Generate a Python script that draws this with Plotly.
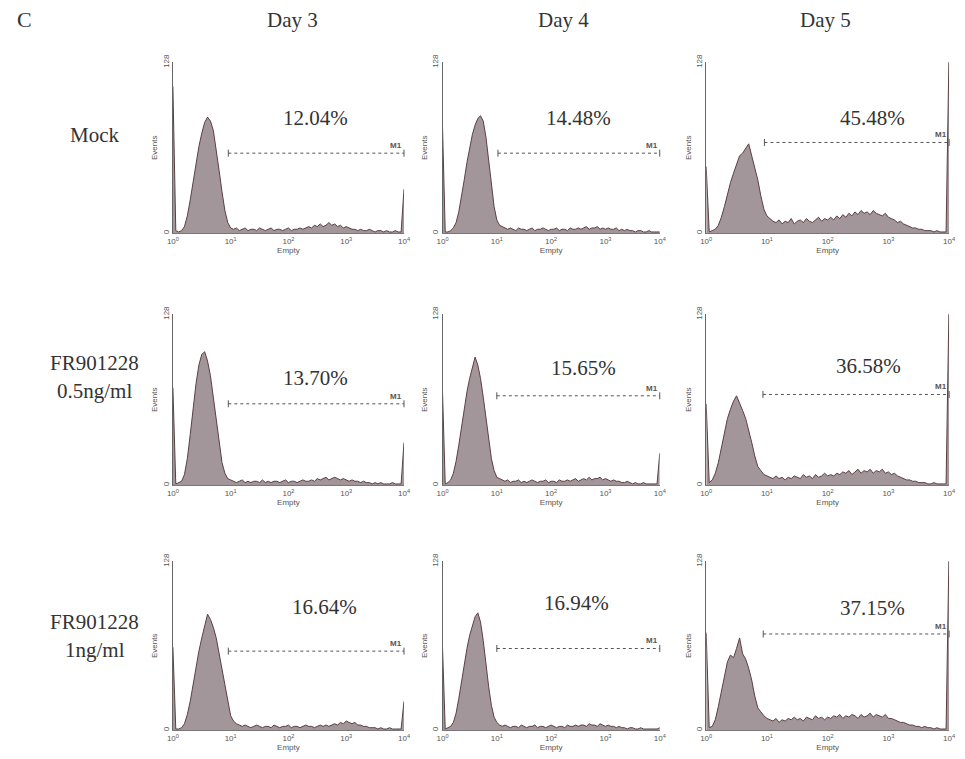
import plotly.graph_objects as go

# ---------------- data ----------------
row_labels = [["Mock"], ["FR901228", "0.5ng/ml"], ["FR901228", "1ng/ml"]]
col_labels = ["Day 3", "Day 4", "Day 5"]
pct_labels = ["12.04%", "14.48%", "45.48%",
              "13.70%", "15.65%", "36.58%",
              "16.64%", "16.94%", "37.15%"]
# histogram channels: log10 fluorescence 0..4 in 0.05 steps
n_channels = 81
# event counts per channel
mock_d3 = [110, 2, 1, 2, 5, 13, 25, 39, 53, 65, 75, 83, 87, 84, 77, 63, 47, 31, 17, 8, 4,
           3, 4, 2, 3, 4, 2, 3, 3, 2, 4, 3, 2, 3, 4, 2, 3, 3, 2, 3, 4, 2, 3, 3, 4, 3,
           4, 5, 4, 6, 5, 7, 5, 6, 8, 6, 7, 5, 6, 4, 5, 4, 3,
           3, 2, 3, 2, 2, 3, 2, 1, 2, 2, 1, 2, 1, 1, 2, 1, 1, 33]
mock_d4 = [80, 1, 1, 2, 4, 8, 16, 27, 40, 53, 64, 74, 81, 86, 88, 84, 72, 55, 36, 20, 10, 6, 5, 4,
           3, 4, 3, 2, 4, 3, 3, 2, 3, 4, 2, 3, 3, 4, 3, 2, 3, 3, 4, 2, 3, 3, 2, 4, 3, 3,
           4, 3, 4, 5, 3, 4, 4, 5, 3, 4, 3, 4, 3, 3, 4, 2, 3,
           2, 3, 2, 2, 1, 2, 2, 1, 1, 2, 1, 1, 1, 1]
mock_d5 = [50, 1, 2, 3, 6, 12, 20, 30, 38, 45, 52, 58, 60, 64, 67, 58, 50, 40, 28, 18, 13, 11, 9,
           8, 10, 7, 9, 8, 11, 7, 9, 10, 8, 11, 9, 8, 10, 12, 9, 11, 10,
           12, 10, 13, 11, 14, 12, 15, 13, 16, 14, 17, 15, 16, 14, 17, 15, 14, 13, 15, 12,
           11, 10, 8, 9, 7, 6, 5, 4, 4, 3, 3, 2, 2, 2, 1, 2, 1, 1, 1, 140]
fr05_d3 = [73, 1, 2, 3, 8, 20, 38, 58, 76, 90, 98, 100, 93, 82, 66, 48, 31, 17, 9, 5, 4,
           3, 2, 3, 4, 2, 3, 2, 3, 3, 2, 4, 2, 3, 2, 3, 3, 2, 3, 4, 2, 3, 3, 2, 3, 4, 3, 3,
           4, 3, 5, 4, 5, 6, 4, 5, 6, 5, 4, 5, 4, 3, 4, 3, 3,
           2, 3, 2, 2, 1, 2, 1, 2, 1, 1, 1, 2, 1, 1, 1, 32]
fr05_d4 = [70, 1, 2, 4, 9, 18, 30, 44, 58, 70, 80, 88, 96, 90, 80, 66, 50, 34, 20, 11, 6, 5, 4,
           3, 4, 2, 3, 3, 4, 2, 3, 2, 3, 4, 3, 2, 3, 3, 4, 2, 3, 3, 2, 4, 3, 3, 4, 3,
           4, 5, 3, 4, 5, 4, 6, 4, 5, 5, 6, 4, 5, 4, 3, 4, 3,
           3, 2, 2, 3, 2, 1, 2, 1, 1, 2, 1, 1, 1, 1, 1, 24]
fr05_d5 = [61, 2, 4, 9, 17, 28, 40, 50, 57, 63, 67, 62, 56, 50, 42, 32, 22, 14, 11, 8, 7,
           6, 5, 7, 5, 6, 4, 6, 5, 7, 6, 5, 8, 6, 7, 5, 8, 6, 7, 9, 7,
           8, 7, 9, 8, 10, 9, 11, 8, 10, 12, 9, 11, 10, 12, 9, 11, 10, 12, 9, 10,
           8, 9, 7, 6, 5, 4, 4, 3, 3, 2, 2, 2, 1, 1, 2, 1, 1, 1, 1, 140]
fr1_d3 = [63, 1, 1, 2, 5, 12, 22, 35, 48, 60, 70, 80, 88, 84, 78, 70, 58, 44, 32, 20, 11, 7, 5,
          4, 3, 4, 3, 2, 3, 4, 3, 2, 3, 3, 2, 4, 3, 2, 3, 3, 4, 2, 3, 3, 2, 3, 4, 3, 3, 2,
          3, 4, 3, 4, 3, 4, 5, 4, 6, 5, 7, 6, 5, 6, 4, 4, 3,
          3, 2, 2, 2, 1, 2, 1, 1, 2, 1, 1, 1, 1, 22]
fr1_d4 = [63, 1, 2, 3, 6, 13, 24, 37, 50, 62, 72, 80, 86, 89, 82, 68, 50, 33, 19, 10, 6, 4,
          3, 4, 3, 2, 3, 3, 2, 4, 3, 2, 3, 3, 4, 2, 3, 3, 2, 3, 4, 3, 2, 3, 3, 2, 4, 3,
          3, 4, 3, 4, 4, 3, 5, 4, 4, 3, 5, 4, 3, 4, 3, 3, 2,
          3, 2, 2, 1, 2, 2, 1, 1, 2, 1, 1, 1, 1, 1, 1, 2]
fr1_d5 = [74, 2, 3, 8, 18, 30, 42, 52, 57, 55, 62, 70, 58, 54, 47, 38, 26, 17, 14, 11, 9,
          8, 7, 9, 6, 8, 7, 9, 8, 10, 8, 9, 7, 10, 9, 8, 11, 9, 10, 8, 10,
          9, 11, 10, 12, 9, 11, 10, 12, 11, 9, 12, 10, 11, 13, 10, 12, 11, 10, 12, 9,
          9, 8, 7, 6, 6, 5, 4, 4, 3, 3, 2, 3, 2, 2, 1, 2, 1, 1, 1, 140]
panel_counts = [mock_d3, mock_d4, mock_d5, fr05_d3, fr05_d4, fr05_d5, fr1_d3, fr1_d4, fr1_d5]
# M1 gate: start (linear fluorescence) and marker level (events)
m1_start = [9.1, 10.5, 9.1, 9.1, 10.0, 8.6, 9.1, 10.0, 8.7]
m1_level = [60, 60, 68, 61, 67, 68, 60, 62, 73]
x_ticks = [1, 10, 100, 1000, 10000]
x_ticktext = ["10<sup>0</sup>", "10<sup>1</sup>", "10<sup>2</sup>", "10<sup>3</sup>", "10<sup>4</sup>"]
y_max = 128

# ---------------- layout (pixels) ----------------
W, H = 965, 759
col_px = [(169, 403), (442, 662), (709, 955)]
row_px = [(55, 228), (310, 483), (560, 731)]
pct_pos = [(0.615, 0.642), (0.627, 0.642), (0.683, 0.642),
           (0.615, 0.595), (0.65, 0.653), (0.667, 0.665),
           (0.654, 0.696), (0.618, 0.719), (0.683, 0.69)]
SERIF_SHIFT = 6

FILL = "#a3969a"
EDGE = "#5b3f42"
SMALL = dict(family="Liberation Sans, Arial", size=8, color="#555555")
SERIF = "Liberation Serif, Times New Roman, serif"

channels = [10 ** (i * 4 / (n_channels - 1)) for i in range(n_channels)]

fig = go.Figure()
layout = dict(width=W, height=H, margin=dict(l=0, r=0, t=0, b=0),
              paper_bgcolor="white", plot_bgcolor="white", showlegend=False)
annotations = []

for k in range(9):
    r, c = divmod(k, 3)
    sfx = "" if k == 0 else str(k + 1)
    xa, ya = "x" + sfx, "y" + sfx
    x0, x1 = col_px[c]
    t0, b0 = row_px[r]
    fig.add_trace(go.Scatter(
        x=channels, y=panel_counts[k], xaxis=xa, yaxis=ya, mode="lines",
        line=dict(color=EDGE, width=1), fill="tozeroy", fillcolor=FILL,
        hoverinfo="skip"))
    # M1 gate marker
    fig.add_trace(go.Scatter(
        x=[m1_start[k], x_ticks[-1]], y=[m1_level[k], m1_level[k]],
        xaxis=xa, yaxis=ya, mode="lines+markers",
        line=dict(color="#555555", width=1, dash="dot"),
        marker=dict(symbol="line-ns-open", size=5, line=dict(color="#555555", width=1)),
        hoverinfo="skip", cliponaxis=False))
    layout["xaxis" + sfx] = dict(
        domain=[x0 / W, x1 / W], anchor=ya, type="log", range=[0, 4],
        tickvals=x_ticks, ticktext=x_ticktext, tickfont=SMALL, ticks="",
        showgrid=False, zeroline=False, showline=True, linecolor="#777777", linewidth=1,
        title=dict(text="Empty", font=SMALL, standoff=2))
    layout["yaxis" + sfx] = dict(
        domain=[1 - b0 / H, 1 - t0 / H], anchor=xa, range=[0, y_max],
        tickvals=[0, y_max], ticktext=["0", str(y_max)], tickangle=-90, tickfont=SMALL,
        ticks="", showgrid=False, zeroline=False, showline=True, linecolor="#666666",
        linewidth=1, title=dict(text="Events", font=SMALL, standoff=2))
    px_, py_ = pct_pos[k]
    annotations.append(dict(text=pct_labels[k], xref=xa + " domain", yref=ya + " domain",
                            x=px_, y=py_, xanchor="center", yanchor="middle",
                            yshift=SERIF_SHIFT, showarrow=False,
                            font=dict(family=SERIF, size=21, color="#333333")))
    annotations.append(dict(text="<b>M1</b>", xref=xa + " domain", yref=ya,
                            x=1.0, y=m1_level[k], xanchor="right", yanchor="bottom",
                            yshift=1, showarrow=False, font=SMALL))

col_centers = [290, 565, 830]
for c, lab in enumerate(col_labels):
    annotations.append(dict(text=lab, xref="paper", yref="paper", x=col_centers[c] / W,
                            y=1 - 18 / H, xanchor="center", yanchor="middle",
                            yshift=SERIF_SHIFT, showarrow=False,
                            font=dict(family=SERIF, size=21, color="#333333")))
annotations.append(dict(text="C", xref="paper", yref="paper", x=19 / W, y=1 - 18 / H,
                        xanchor="center", yanchor="middle", yshift=SERIF_SHIFT,
                        showarrow=False, font=dict(family=SERIF, size=22, color="#333333")))

row_text_y = [[135], [365, 394], [627, 656]]
for r, lines in enumerate(row_labels):
    for j, line in enumerate(lines):
        annotations.append(dict(text=line, xref="paper", yref="paper", x=90 / W,
                                y=1 - row_text_y[r][j] / H, xanchor="center", yanchor="middle",
                                yshift=SERIF_SHIFT, showarrow=False,
                                font=dict(family=SERIF, size=21, color="#333333")))

layout["annotations"] = annotations
fig.update_layout(**layout)
fig.write_html("out.html")
